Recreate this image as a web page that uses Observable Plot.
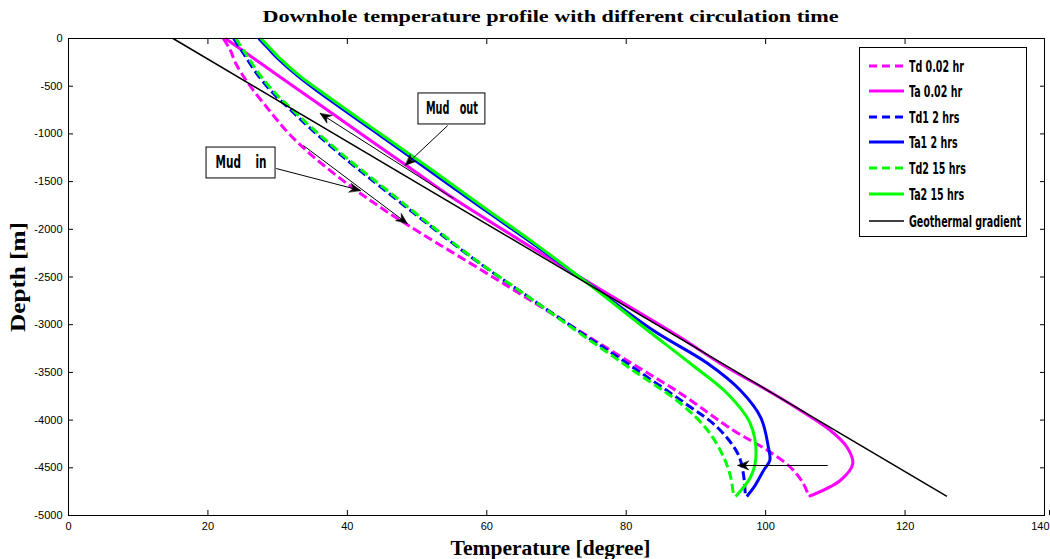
<!DOCTYPE html>
<html>
<head>
<meta charset="utf-8">
<script src="https://cdn.jsdelivr.net/npm/d3@7"></script>
<script src="https://cdn.jsdelivr.net/npm/@observablehq/plot@0.6"></script>
<style>
html,body{margin:0;padding:0;background:#fff;}
#wrap{position:relative;width:1050px;height:559px;overflow:hidden;}
#legend{position:absolute;left:859px;top:47px;width:168px;height:190px;border:1px solid #000;background:#fff;box-sizing:border-box;}
#legend .row{position:absolute;left:0;height:24px;display:flex;align-items:center;white-space:nowrap;}
#legend .lab{display:inline-block;font-family:"DejaVu Sans Condensed","Liberation Sans Narrow",sans-serif;font-weight:bold;font-size:16px;transform-origin:left center;color:#000;}
</style>
</head>
<body>
<div id="wrap"></div>
<script>
// ---------- data ----------
const titleText = "Downhole temperature profile with different circulation time";
const xLabelText = "Temperature [degree]";
const yLabelText = "Depth [m]";
const xTicks = [0, 20, 40, 60, 80, 100, 120, 140];
const yTicks = [0, -500, -1000, -1500, -2000, -2500, -3000, -3500, -4000, -4500, -5000];
const legendLabels = ["Td 0.02 hr", "Ta 0.02 hr", "Td1 2 hrs", "Ta1 2 hrs", "Td2 15 hrs", "Ta2 15 hrs", "Geothermal gradient"];

// [temperature, depth]
const td002 = [[22.2,0],[23.2,-120],[24.0,-262],[25.8,-472],[28.7,-744],[31.6,-996],[35.1,-1237],[40.5,-1551],[45.2,-1792],[50.6,-2044],[59.1,-2421],[66.3,-2746],[73.4,-3071],[80.6,-3396],[87.8,-3721],[95.4,-4109],[100.3,-4319],[103.6,-4497],[105.4,-4664],[106.2,-4800]];
const ta002 = [[22.5,0],[26.4,-200],[30.3,-400],[34.2,-600],[38.1,-800],[42.0,-1000],[45.9,-1200],[49.8,-1400],[54.6,-1646],[64.8,-2117],[74.9,-2568],[87.8,-3134],[93.5,-3407],[100.3,-3690],[105.0,-3899],[109.3,-4109],[111.7,-4287],[112.5,-4455],[110.7,-4633],[106.2,-4800]];
const td1 = [[23.7,0],[25.1,-157],[27.0,-367],[29.4,-577],[31.8,-744],[34.7,-943],[40.2,-1289],[44.9,-1562],[52.0,-1971],[59.0,-2358],[66.3,-2725],[73.7,-3092],[81.2,-3459],[88.5,-3826],[93.1,-4078],[96.0,-4350],[96.8,-4560],[97.1,-4800]];
const ta1 = [[27.3,0],[28.6,-100],[29.9,-200],[33.0,-400],[35.6,-545],[43.4,-950],[51.1,-1350],[58.8,-1750],[66.6,-2150],[75.0,-2589],[83.9,-3061],[91.7,-3407],[96.4,-3690],[99.3,-3973],[100.4,-4287],[100.6,-4423],[99.7,-4528],[98.3,-4706],[97.3,-4800]];
const td2 = [[24.0,0],[25.4,-157],[27.3,-367],[29.7,-577],[32.1,-744],[35.0,-943],[40.5,-1289],[45.2,-1562],[52.2,-1971],[59.1,-2358],[66.3,-2725],[73.4,-3092],[80.6,-3459],[87.8,-3826],[91.7,-4109],[94.0,-4392],[95.0,-4602],[95.4,-4800]];
const ta2 = [[27.6,0],[28.9,-100],[30.2,-200],[33.3,-400],[36.0,-545],[43.8,-950],[51.6,-1350],[59.2,-1750],[66.9,-2150],[74.9,-2589],[83.1,-3061],[89.2,-3407],[94.5,-3721],[97.8,-4036],[98.6,-4392],[97.8,-4602],[95.7,-4800]];
const geo = [[15,0],[126,-4800]];

// annotation boxes and arrows (data units)
const boxLabels = ["Mud\u00a0\u00a0\u00a0out", "Mud\u00a0\u00a0\u00a0\u00a0in"];
const boxT1 = [50.2, 19.8];
const boxT2 = [59.8, 29.7];
const boxD1 = [-576, -1143];
const boxD2 = [-901, -1467];
const arrowT1 = [54.4, 55.2, 29.8, 33.7, 108.9];
const arrowD1 = [-912, -1677, -1363, -1122, -4476];
const arrowT2 = [48.3, 36.1, 41.9, 48.6, 96.0];
const arrowD2 = [-1331, -786, -1593, -1939, -4476];

// ---------- build ----------
const series = [
  {name: legendLabels[0], pts: td002, color: "#ff00ff", dash: "9,4", w: 3},
  {name: legendLabels[1], pts: ta002, color: "#ff00ff", dash: null, w: 3},
  {name: legendLabels[2], pts: td1, color: "#0000ff", dash: "9,4", w: 3},
  {name: legendLabels[3], pts: ta1, color: "#0000ff", dash: null, w: 3},
  {name: legendLabels[4], pts: td2, color: "#00ff00", dash: "9,4", w: 3},
  {name: legendLabels[5], pts: ta2, color: "#00ff00", dash: null, w: 3},
  {name: legendLabels[6], pts: geo, color: "#000000", dash: null, w: 1.5}
];
const boxes = boxLabels.map((l, i) => ({label: l, t1: boxT1[i], t2: boxT2[i], d1: boxD1[i], d2: boxD2[i]}));
const arrows = arrowT1.map((t, i) => ({t1: t, d1: arrowD1[i], t2: arrowT2[i], d2: arrowD2[i]}));

const W = 1050, H = 559, ML = 68, MR = 6, MT = 38, MB = 44;
const xDomain = [0, 140], yDomain = [-5000, 0];
// same scales as the plot, used to orient arrowheads in screen space
const sx = Plot.scale({x: {domain: xDomain, range: [ML, W - MR]}});
const sy = Plot.scale({y: {domain: yDomain, range: [H - MB, MT]}});
const headAngle = d => {
  const dx = sx.apply(d.t2) - sx.apply(d.t1);
  const dy = sy.apply(d.d2) - sy.apply(d.d1);
  return Math.atan2(dx, -dy) * 180 / Math.PI;
};
const headShape = {
  draw(context) {
    context.moveTo(0, 0);
    context.lineTo(-4.5, 11);
    context.lineTo(0, 7.5);
    context.lineTo(4.5, 11);
    context.closePath();
  }
};

const lineMarks = series.map(s => Plot.line(s.pts, {
  x: d => d[0], y: d => d[1], stroke: s.color, strokeWidth: s.w,
  strokeDasharray: s.dash || undefined, curve: "catmull-rom", strokeLinecap: "butt"
}));

const serif = "'Liberation Serif', 'Times New Roman', serif";
const chart = Plot.plot({
  width: W,
  height: H,
  marginLeft: ML,
  marginRight: MR,
  marginTop: MT,
  marginBottom: MB,
  style: {fontFamily: "Arial, 'Liberation Sans', sans-serif", fontSize: "11px", background: "#fff", color: "#000"},
  x: {domain: xDomain},
  y: {domain: yDomain},
  marks: [
    ...lineMarks,
    Plot.link(arrows, {x1: "t1", y1: "d1", x2: "t2", y2: "d2", stroke: "#000", strokeWidth: 1}),
    Plot.vector(arrows, {x: "t2", y: "d2", rotate: headAngle, length: 11, anchor: "start", shape: headShape, fill: "#000", stroke: "#000", strokeWidth: 0.5}),
    Plot.rect(boxes, {x1: "t1", x2: "t2", y1: "d1", y2: "d2", fill: "#fff", stroke: "#000", strokeWidth: 1}),
    Plot.text(boxes, {x: d => (d.t1 + d.t2) / 2, y: d => (d.d1 + d.d2) / 2, text: "label", fontFamily: "'DejaVu Sans Condensed', sans-serif", fontWeight: "bold", fontSize: 17, ariaDescription: "mudlabel"}),
    Plot.frame({stroke: "#000", strokeWidth: 1}),
    Plot.axisX({anchor: "bottom", ticks: xTicks.slice(0, -1), tickSize: -5, tickPadding: 12, label: null, tickFormat: d => String(d)}),
    Plot.axisX({anchor: "bottom", ticks: xTicks.slice(-1), tickSize: -5, tickPadding: 12, label: null, tickFormat: d => String(d), textAnchor: "end", dx: 5}),
    Plot.axisX({anchor: "top", ticks: xTicks, tickSize: -5, tickFormat: () => "", label: null}),
    Plot.axisY({anchor: "left", ticks: yTicks, tickSize: -5, tickPadding: 11, label: null, tickFormat: d => String(d)}),
    Plot.axisY({anchor: "right", ticks: yTicks, tickSize: -5, tickFormat: () => "", label: null}),
    Plot.text([titleText], {text: d => d, frameAnchor: "top", lineAnchor: "middle", textAnchor: "middle", dx: -6, dy: -22, fontFamily: serif, fontWeight: "bold", fontSize: 17, ariaDescription: "title"}),
    Plot.text([xLabelText], {text: d => d, frameAnchor: "bottom", lineAnchor: "middle", textAnchor: "middle", dx: -6, dy: 33, fontFamily: serif, fontWeight: "bold", fontSize: 20, ariaDescription: "xlabel"}),
    Plot.text([yLabelText], {text: d => d, frameAnchor: "left", lineAnchor: "middle", textAnchor: "middle", dx: -50, rotate: -90, fontFamily: serif, fontWeight: "bold", fontSize: 20, ariaDescription: "ylabel"})
  ]
});

const wrap = document.getElementById("wrap");
wrap.appendChild(chart);

// stretch texts to the reference's widths
const fitText = (desc, widths) => {
  chart.querySelectorAll(`g[aria-description="${desc}"] text`).forEach((t, i) => {
    t.setAttribute("textLength", widths[i]);
    t.setAttribute("lengthAdjust", "spacingAndGlyphs");
  });
};
fitText("mudlabel", [52, 51]);
fitText("title", [576]);
fitText("xlabel", [200]);
fitText("ylabel", [110]);

// legend
const legend = document.createElement("div");
legend.id = "legend";
wrap.appendChild(legend);
const rowCenters = [18, 43, 69, 94, 120, 146, 173];
const labs = [];
series.forEach((s, i) => {
  const row = document.createElement("div");
  row.className = "row";
  row.style.top = (rowCenters[i] - 12) + "px";
  const svgNS = "http://www.w3.org/2000/svg";
  const sv = document.createElementNS(svgNS, "svg");
  sv.setAttribute("width", 48); sv.setAttribute("height", 24);
  const ln = document.createElementNS(svgNS, "line");
  ln.setAttribute("x1", 9); ln.setAttribute("x2", 44);
  ln.setAttribute("y1", 12); ln.setAttribute("y2", 12);
  ln.setAttribute("stroke", s.color);
  ln.setAttribute("stroke-width", s.w);
  if (s.dash) ln.setAttribute("stroke-dasharray", "8,5");
  sv.appendChild(ln);
  row.appendChild(sv);
  const lab = document.createElement("span");
  lab.className = "lab";
  lab.textContent = s.name;
  lab.style.marginLeft = "1px";
  row.appendChild(lab);
  legend.appendChild(row);
  labs.push(lab);
});
const geoW = labs[6].getBoundingClientRect().width;
const k = 112 / geoW;
labs.forEach(l => { l.style.transform = `scaleX(${k})`; });
</script>
</body>
</html>
